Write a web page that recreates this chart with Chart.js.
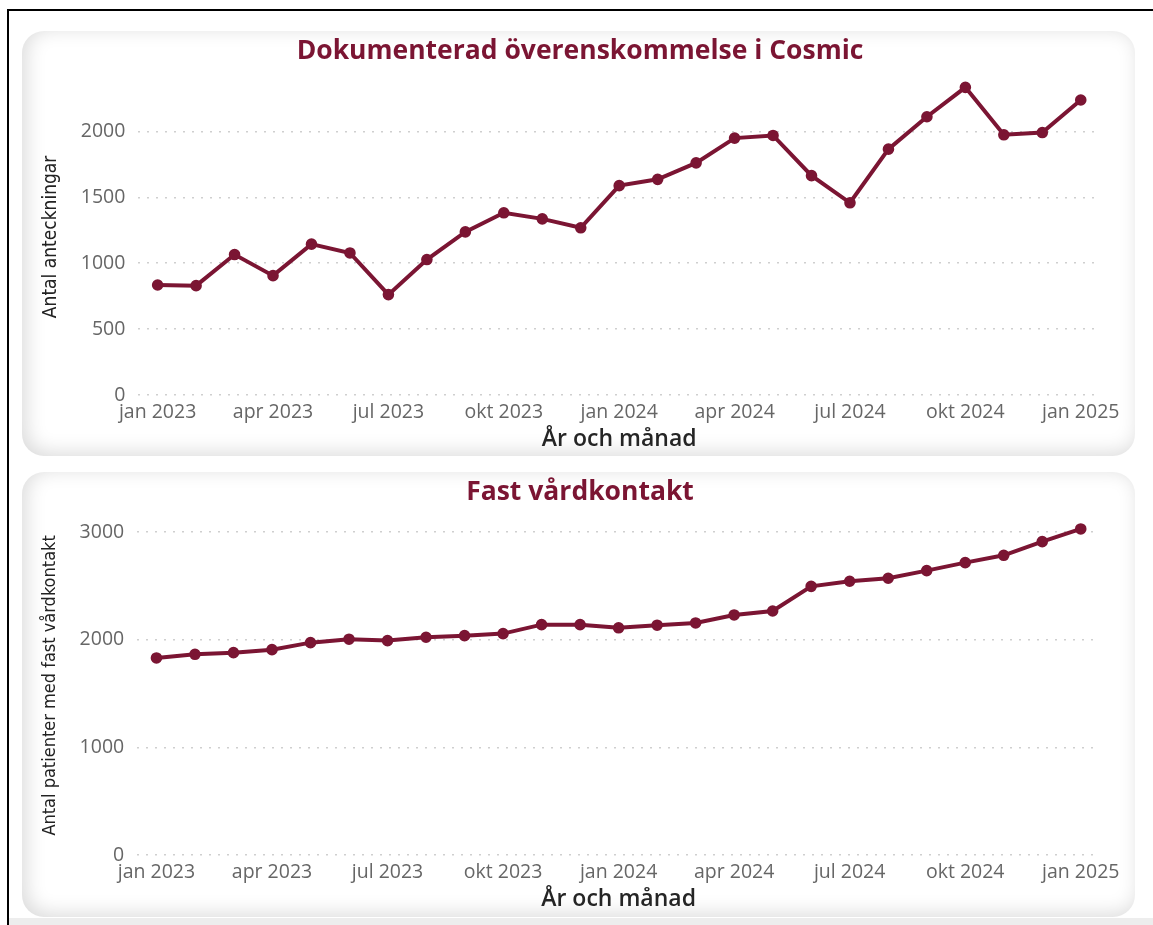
<!DOCTYPE html>
<html lang="sv">
<head>
<meta charset="utf-8">
<title>Cosmic</title>
<script src="https://cdn.jsdelivr.net/npm/chart.js@4/dist/chart.umd.min.js"></script>
<style>
  body{margin:0;background:#fff;width:1153px;height:925px;overflow:hidden;position:relative;}
  .frame{position:absolute;left:7px;top:9px;right:-10px;bottom:-10px;border-top:2px solid #000;border-left:2px solid #000;}
  .card{position:absolute;left:22px;width:1113px;background:#fff;border-radius:22px;
        box-shadow:inset 4px -3px 20px rgba(0,0,0,0.15);}
  .card canvas{position:absolute;}
  .strip{position:absolute;left:9px;right:0;top:918px;height:7px;background:#ededed;}
</style>
</head>
<body>
<div class="frame"></div>
<div class="card" style="top:31px;height:425px;">
  <canvas id="chart1" style="left:8px;top:2px;"></canvas>
</div>
<div class="card" style="top:472px;height:445px;">
  <canvas id="chart2" style="left:8px;top:2px;"></canvas>
</div>
<div class="strip"></div>
<script>
const manader = ['jan 2023','feb 2023','mar 2023','apr 2023','maj 2023','jun 2023','jul 2023','aug 2023','sep 2023','okt 2023','nov 2023','dec 2023',
  'jan 2024','feb 2024','mar 2024','apr 2024','maj 2024','jun 2024','jul 2024','aug 2024','sep 2024','okt 2024','nov 2024','dec 2024','jan 2025'];

// Dokumenterad överenskommelse i Cosmic
const anteckningar = [835, 830, 1066, 906, 1145, 1078, 762, 1028, 1238, 1383, 1337, 1269,
  1589, 1637, 1762, 1950, 1970, 1665, 1459, 1866, 2112, 2335, 1975, 1992, 2239];

// Fast vårdkontakt
const vardkontakt = [1830, 1864, 1879, 1907, 1972, 2004, 1991, 2022, 2037, 2056, 2139, 2139,
  2110, 2134, 2155, 2229, 2266, 2495, 2542, 2570, 2641, 2715, 2783, 2910, 3028];

const farg = '#7b1533';

function ritaLinje(id, w, h, titel, yTitel, ySize, data, yMax, steg, titelPad){
  const cv = document.getElementById(id);
  cv.width = w; cv.height = h;
  cv.style.width = w+'px'; cv.style.height = h+'px';
  return new Chart(cv, {
    type:'line',
    data:{
      labels: manader,
      datasets:[{
        data: data,
        borderColor: farg,
        backgroundColor: farg,
        borderWidth: 4,
        pointRadius: 3.8,
        pointHoverRadius: 4,
        tension: 0
      }]
    },
    options:{
      responsive:false,
      animation:false,
      layout:{padding:0},
      plugins:{
        legend:{display:false},
        tooltip:{enabled:false},
        title:{
          display:true,
          text: titel,
          color: farg,
          font:{family:'"Open Sans"', size:26.5, weight:'bold'},
          padding:{top:3, bottom:titelPad}
        }
      },
      scales:{
        x:{
          offset:true,
          grid:{display:false, drawTicks:false},
          border:{display:false},
          ticks:{
            autoSkip:false, maxRotation:0, padding:6,
            color:'#666',
            font:{family:'"Open Sans"', size:19.5},
            callback:function(v, i){ return i % 3 === 0 ? manader[i] : null; }
          },
          title:{
            display:true, text:'År och månad', color:'#252525',
            font:{family:'"Open Sans"', size:23, weight:'600'},
            padding:{top:-5, bottom:3}
          }
        },
        y:{
          beginAtZero:true, max:yMax,
          border:{display:false, dash:[2,7]},
          grid:{
            lineWidth:1.5, drawTicks:false,
            color:function(c){ return c.tick && c.tick.value % steg === 0 ? '#cfcfcf' : 'rgba(0,0,0,0)'; }
          },
          ticks:{
            stepSize:steg, includeBounds:false, padding:13, color:'#666',
            font:{family:'"Open Sans"', size:19.5},
            callback:function(v){ return v % steg === 0 ? v : ''; }
          },
          title:{
            display:true, text:yTitel, color:'#222',
            font:{family:'"DejaVu Sans Condensed", Roboto', size:ySize},
            padding:{top:10, bottom:5}
          }
        },
        // tom axel till höger, ger luft efter sista punkten
        hoger:{
          position:'right', display:true,
          grid:{display:false}, border:{display:false},
          ticks:{display:false},
          afterFit:function(s){ s.width = 30; }
        }
      }
    }
  });
}

ritaLinje('chart1', 1100, 423, 'Dokumenterad överenskommelse i Cosmic', 'Antal anteckningar', 19, anteckningar, 2400, 500, 11);
ritaLinje('chart2', 1100, 442, 'Fast vårdkontakt', 'Antal patienter med fast vårdkontakt', 18, vardkontakt, 3150, 1000, 7);
</script>
</body>
</html>
